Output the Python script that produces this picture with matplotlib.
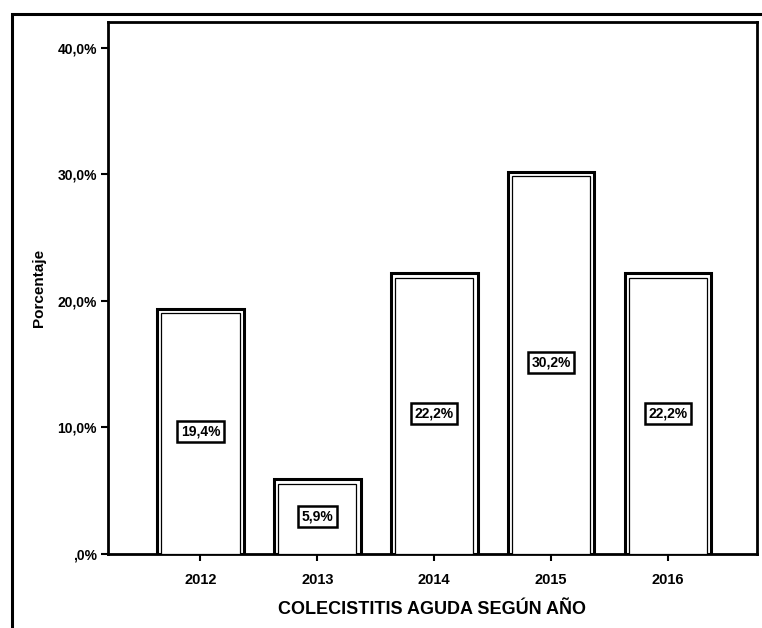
import matplotlib
matplotlib.use("Agg")
import matplotlib.pyplot as plt
from matplotlib.patches import Rectangle

plt.rcParams['font.family'] = ['Liberation Sans', 'DejaVu Sans']

years = ['2012', '2013', '2014', '2015', '2016']
percent = [19.4, 5.9, 22.2, 30.2, 22.2]
label_texts = ['19,4%', '5,9%', '22,2%', '30,2%', '22,2%']
y_ticks = [0, 10, 20, 30, 40]
y_tick_labels = [',0%', '10,0%', '20,0%', '30,0%', '40,0%']

fig = plt.figure(figsize=(7.62, 6.28), dpi=100)

# marco exterior (cortado a la derecha y abajo)
fig.patches.append(Rectangle((12 / 762, -0.1), 1.2, 1 - 14 / 628 + 0.1,
                             transform=fig.transFigure, fill=False,
                             edgecolor='black', linewidth=2.2))

ax = fig.add_axes([108 / 762, 74 / 628, 649 / 762, 532 / 628])
x = list(range(len(years)))

# barras con doble borde
ax.bar(x, percent, width=0.74, color='white', edgecolor='black', linewidth=2.2, zorder=2)
ax.bar(x, [p - 0.35 for p in percent], width=0.67, color='white',
       edgecolor='black', linewidth=0.9, zorder=3)

for xi, p, t in zip(x, percent, label_texts):
    ax.text(xi, p / 2, t, ha='center', va='center', fontsize=10, fontweight='bold',
            zorder=5,
            bbox=dict(boxstyle='square,pad=0.25', facecolor='white',
                      edgecolor='black', linewidth=1.8))

ax.set_xlim(-0.79, 4.76)
ax.set_ylim(0, 42.05)
ax.set_xticks(x)
ax.set_xticklabels(years, fontsize=10.5, fontweight='bold')
ax.set_yticks(y_ticks)
ax.set_yticklabels(y_tick_labels, fontsize=10, fontweight='bold')
ax.tick_params(axis='both', direction='out', length=5, width=1.5, pad=3)
ax.tick_params(axis='x', pad=9)

for s in ax.spines.values():
    s.set_linewidth(2)

ax.set_xlabel('COLECISTITIS AGUDA SEGÚN AÑO', fontsize=13, fontweight='bold', labelpad=10)
ax.set_ylabel('Porcentaje', fontsize=11, fontweight='bold', labelpad=8)

fig.savefig('out.png', dpi=100)
